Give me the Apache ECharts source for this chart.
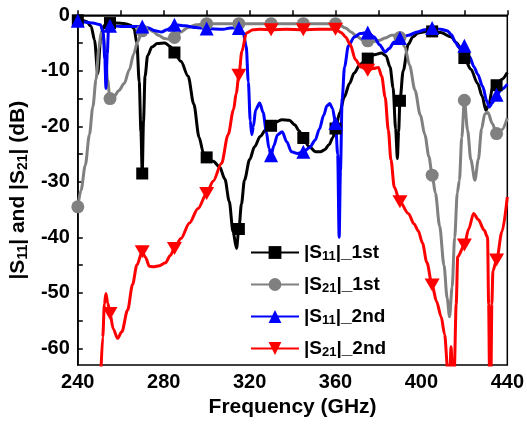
<!DOCTYPE html>
<html>
<head>
<meta charset="utf-8">
<script src="https://cdn.jsdelivr.net/npm/echarts@6/dist/echarts.min.js"></script>
<style>html,body{margin:0;padding:0;background:#fff}#c{width:527px;height:424px}</style>
</head>
<body>
<div id="c"></div>
<script>
// ---------- data ----------
const seriesNames = ['|S11|_1st', '|S21|_1st', '|S11|_2nd', '|S21|_2nd'];
const xMin = 240, xMax = 440, xStep = 40;
const yTickValues = [0, -10, -20, -30, -40, -50, -60];
const yMinorTickValues = [-5, -15, -25, -35, -45, -55];
const yMin = -63, yMax = 0;

const s11FirstMarkers = [[240,-0.9],[255,-1.4],[270,-28.5],[285,-6.7],[300,-25.6],[315,-38.5],[330,-19.9],[345,-22.1],[360,-20.4],[375,-7.8],[390,-15.4],[405,-2.9],[420,-7.7],[435,-12.6]];
const s11FirstCurve = [[242,-0.9],[244,-1.1],[246.2,-2],[247.8,-4.5],[249.3,-10.5],[250.6,-4.5],[251.8,-2],[253.5,-1.5],
 [258,-1.4],[262,-1.5],[264.5,-1.8],[266.2,-2.4],[267.5,-5],[268.6,-12],[269.4,-21],
 [270.6,-19],[271.3,-11],[272.5,-7.3],[274.5,-5.7],[277,-5.1],[280.5,-5.0],[283,-5.6],
 [288,-8.3],[291.4,-11],[294,-16],[296.5,-22],[298.5,-24.8],
 [303,-26.3],[306,-27.3],[308.5,-29.5],[310.5,-33.5],[312.3,-39],[313.9,-42],
 [316.2,-34],[317.6,-29.7],[320,-26],[322.3,-23.7],[325,-21.8],[327.5,-20.6],
 [332.5,-19.2],[335,-18.8],[338.5,-18.9],[341,-19.7],[343,-20.8],
 [347.5,-23.6],[350.8,-24.6],[353,-24.6],[355,-24.2],[357,-23.3],[358.8,-22],
 [362,-17.5],[364.1,-14.7],[366.5,-12.3],[368.7,-10.4],[371.5,-8.8],
 [378,-7.1],[381.5,-6.8],[383.5,-7.3],[385.4,-9.3],[386.8,-13],[388,-20.5],[388.8,-25.8],[389.4,-21],
 [391.5,-10],[393.9,-5.2],[396,-3.9],[398.5,-3.2],[401.6,-2.95],
 [409,-3.1],[413.8,-3.9],[416.5,-5],[418.5,-6.3],
 [423,-9.7],[426.2,-12.3],[428.3,-14.6],[430,-17.1],[431.5,-16],[433.1,-13],
 [437.5,-11.5],[440,-10.3]];

const s21FirstMarkers = [[240,-34.5],[255,-15],[270,-2.8],[285,-4.0],[300,-1.5],[315,-1.5],[330,-1.5],[345,-1.5],[360,-1.5],[375,-4.6],[390,-4.0],[405,-28.8],[420,-15.3],[435,-21.3]];
const s21FirstCurve = [[241.5,-31.5],[243.5,-27],[245.4,-21.5],[247,-16.5],[248.5,-11.5],[249.8,-6],[250.8,-3.2],[251.8,-3.5],[252.8,-6.5],[253.8,-11.5],
 [257,-14.6],[259,-13.6],[261.6,-12.3],[264,-9.8],[266,-7],[267.8,-4.8],
 [272.8,-2.4],[275,-2.9],[277.5,-3.6],[280.5,-4.2],[282.5,-4.3],
 [288,-3],[291.4,-2.2],[295,-1.7],
 [307,-1.5],[322,-1.5],[337,-1.5],[352,-1.5],
 [362.5,-1.9],[364.7,-2.3],[367.2,-3],[370,-3.8],[372.5,-4.4],
 [378,-4.7],[380.5,-4.5],[383.1,-4.1],[386,-3.6],[388,-3.6],
 [392.3,-5.7],[394.5,-9],[397,-13.5],[399.5,-18],[401.6,-21.5],[403.5,-25.5],
 [406.5,-32],[408.5,-38],[410.5,-45],[412,-51],[413.1,-54.3],[414.3,-49],[415.5,-40],[416.7,-32],[417.7,-29.7],[418.8,-22],
 [421.5,-20.7],[423,-26],[424.9,-29.7],[426.5,-26],[428,-20.5],[429.5,-17.8],[431,-17.5],[433,-19.5],
 [437.5,-20.6],[440,-18.5]];

const s11SecondMarkers = [[240,-1.0],[255,-1.9],[270,-2.0],[285,-1.7],[300,-2.4],[315,-2.3],[330,-25.2],[345,-24.6],[360,-19.4],[375,-3.1],[390,-4.1],[405,-2.3],[420,-5.5],[435,-14.3]];
const s11SecondCurve = [[243,-1.2],[247,-1.4],[250.5,-1.7],[251.8,-3],[252.6,-8],[253.1,-13.2],[253.7,-7],[254.3,-2.6],
 [260,-2.0],[265,-2.0],[273,-2.3],[276,-2.8],[279,-3.0],[281.5,-2.6],
 [290,-1.9],[295,-2.2],
 [307.7,-2.5],[311,-2.3],
 [317,-3.1],[318.4,-5.5],[319.4,-12],[320.3,-19],[321,-21.5],[321.8,-20],[322.8,-17],[324.7,-15.8],[326.3,-17.5],[327.8,-21],[329,-24],
 [331.3,-23.5],[333,-21.5],[335.2,-21],[337.3,-22.8],[339.5,-24.6],[342.3,-24.9],
 [348,-23.8],[350.5,-22.5],[352.5,-20.5],[354.5,-18],[356,-16.3],[357.3,-15.9],[358.6,-16.8],
 [361,-25],[361.7,-40],[362.3,-28],[363.1,-15],[364.2,-9.3],[366,-5.5],[368.8,-3.9],[371.5,-3.3],
 [378,-3.9],[380.5,-5.3],[383.1,-6.6],[385,-6],[387.3,-4.8],
 [394,-3.6],[398,-3.0],[401.6,-2.6],
 [409,-2.5],[412,-2.8],[414,-3.5],[415.7,-4.8],[417.5,-5.8],
 [422.5,-7.5],[424.5,-9.3],[426.2,-10.6],[428.5,-12.8],[430.5,-15.5],[431.6,-16.5],[433,-15.8],
 [437.5,-13.3],[440,-12.4]];

const s21SecondMarkers = [[255,-53.7],[270,-42.6],[285,-42.0],[300,-32.1],[315,-10.8],[330,-2.6],[345,-2.6],[360,-2.5],[375,-9.9],[390,-33.6],[405,-48.6],[420,-41.4],[435,-44.1]];
const s21SecondCurve = [[250.8,-64],[251.6,-58],[252.4,-52],[253.1,-50.1],[253.9,-51.8],
 [256.5,-56.5],[258.5,-58.2],[260.5,-57],[263.2,-53.1],[265.5,-48.5],[267.5,-45],
 [271.5,-43.6],[273.3,-45.2],[275.2,-45.3],[278,-45.1],[280.8,-44.6],[283,-43.3],
 [288,-40.2],[292,-37.4],[296,-34.8],
 [303,-29.9],[306.9,-26.7],[310,-21.5],[312.5,-17],[313.8,-14],
 [316.4,-6.5],[318.5,-3.2],[321.6,-2.6],[325,-2.5],
 [337,-2.5],[352,-2.5],
 [362.6,-3.1],[364.7,-3.9],[366.8,-5.2],[369.3,-8],[371.8,-9.3],
 [377.5,-9.6],[380,-9.4],[381.5,-11],[383.1,-14.7],[384.6,-20.7],[385.8,-26],[387.4,-31],
 [393.9,-35.7],[396.6,-37.6],[398.5,-38.8],[400.5,-41],[402.5,-44.5],
 [407,-51.5],[409.2,-54.3],[410.8,-57.5],[412.3,-64],[413.3,-64],[413.8,-59.7],[414.4,-64],[415.3,-64],[416.2,-52],[416.9,-43.5],
 [422,-38.5],[424.3,-35.7],[426.5,-36.8],[429.2,-38.7],[430.8,-40],[431.3,-52],[431.7,-64],[432.4,-64],[432.8,-52],[433.3,-46],
 [437.5,-39],[440,-32.7]];

// ---------- chart ----------
const FONT = "'Liberation Sans', Arial, Helvetica, sans-serif";
function build(curve, markers, symbol, size) {
  const all = curve.map(p => ({value: p, symbol: 'none'}))
    .concat(markers.map(p => ({value: p, symbol: symbol, symbolSize: size})));
  all.sort((a, b) => a.value[0] - b.value[0]);
  return all;
}
function subRich(main, sub) {
  return {
    m: {fontSize: main, fontWeight: 'bold', fontFamily: FONT, color: '#000', lineHeight: main + 2},
    s: {fontSize: sub, fontWeight: 'bold', fontFamily: FONT, color: '#000', lineHeight: sub, verticalAlign: 'bottom'}
  };
}
const downTri = 'path://M0,0L20,0L10,18Z';
const styles = [
  {color: '#000000', symbol: 'rect', size: 12},
  {color: '#808080', symbol: 'circle', size: 13},
  {color: '#0000ff', symbol: 'triangle', size: 14},
  {color: '#ff0000', symbol: downTri, size: [15, 13]}
];
const curves = [s11FirstCurve, s21FirstCurve, s11SecondCurve, s21SecondCurve];
const markers = [s11FirstMarkers, s21FirstMarkers, s11SecondMarkers, s21SecondMarkers];

const chart = echarts.init(document.getElementById('c'), null, {renderer: 'canvas'});
chart.setOption({
  animation: false,
  backgroundColor: '#fff',
  grid: {left: 76.5, right: 17, top: 15.3, bottom: 59, show: true, borderColor: '#000', borderWidth: 1.5, backgroundColor: 'transparent'},
  legend: {
    orient: 'vertical', left: 245, top: 238,
    itemWidth: 48, itemHeight: 16, itemGap: 12,
    data: seriesNames,
    formatter: function (name) {
      const m = name.match(/^\|S(\d\d)\|(.*)$/);
      return '{m||S}{s|' + m[1] + '}{m||' + m[2] + '}';
    },
    textStyle: {fontSize: 19, fontWeight: 'bold', fontFamily: FONT, color: '#000', rich: subRich(19, 13)}
  },
  xAxis: {
    type: 'value', min: xMin, max: xMax, interval: xStep,
    axisLine: {show: true, lineStyle: {color: '#000', width: 1.5}},
    axisTick: {show: true, inside: true, length: 5, lineStyle: {color: '#000', width: 1.5}},
    minorTick: {show: true, splitNumber: 2, length: 5, lineStyle: {color: '#000', width: 1.5}},
    axisLabel: {fontSize: 20, fontWeight: 'bold', fontFamily: FONT, color: '#000', margin: 7},
    splitLine: {show: false},
    name: 'Frequency (GHz)', nameLocation: 'middle', nameGap: 29,
    nameTextStyle: {fontSize: 21, fontWeight: 'bold', fontFamily: FONT, color: '#000'}
  },
  yAxis: {
    type: 'value', min: yMin, max: yMax,
    axisLine: {show: true, lineStyle: {color: '#000', width: 1.5}},
    axisTick: {show: true, inside: true, length: 5, customValues: yTickValues.concat(yMinorTickValues), lineStyle: {color: '#000', width: 1.5}},
    axisLabel: {customValues: yTickValues, fontSize: 20, fontWeight: 'bold', fontFamily: FONT, color: '#000', margin: 8},
    splitLine: {show: false},
    name: '{m||S}{s|11}{m|| and |S}{s|21}{m|| (dB)}', nameLocation: 'middle', nameGap: 46, nameRotate: 90,
    nameTextStyle: {fontSize: 21, fontWeight: 'bold', fontFamily: FONT, color: '#000', rich: subRich(21, 14)}
  },
  series: seriesNames.map((name, i) => ({
    type: 'line', name: name,
    data: build(curves[i], markers[i], styles[i].symbol, styles[i].size),
    symbol: styles[i].symbol, symbolSize: styles[i].size,
    smooth: 0.3, smoothMonotone: 'x',
    lineStyle: {color: styles[i].color, width: 3},
    itemStyle: {color: styles[i].color, borderWidth: 0},
    emphasis: {disabled: true},
    clip: true
  }))
});
</script>
</body>
</html>
